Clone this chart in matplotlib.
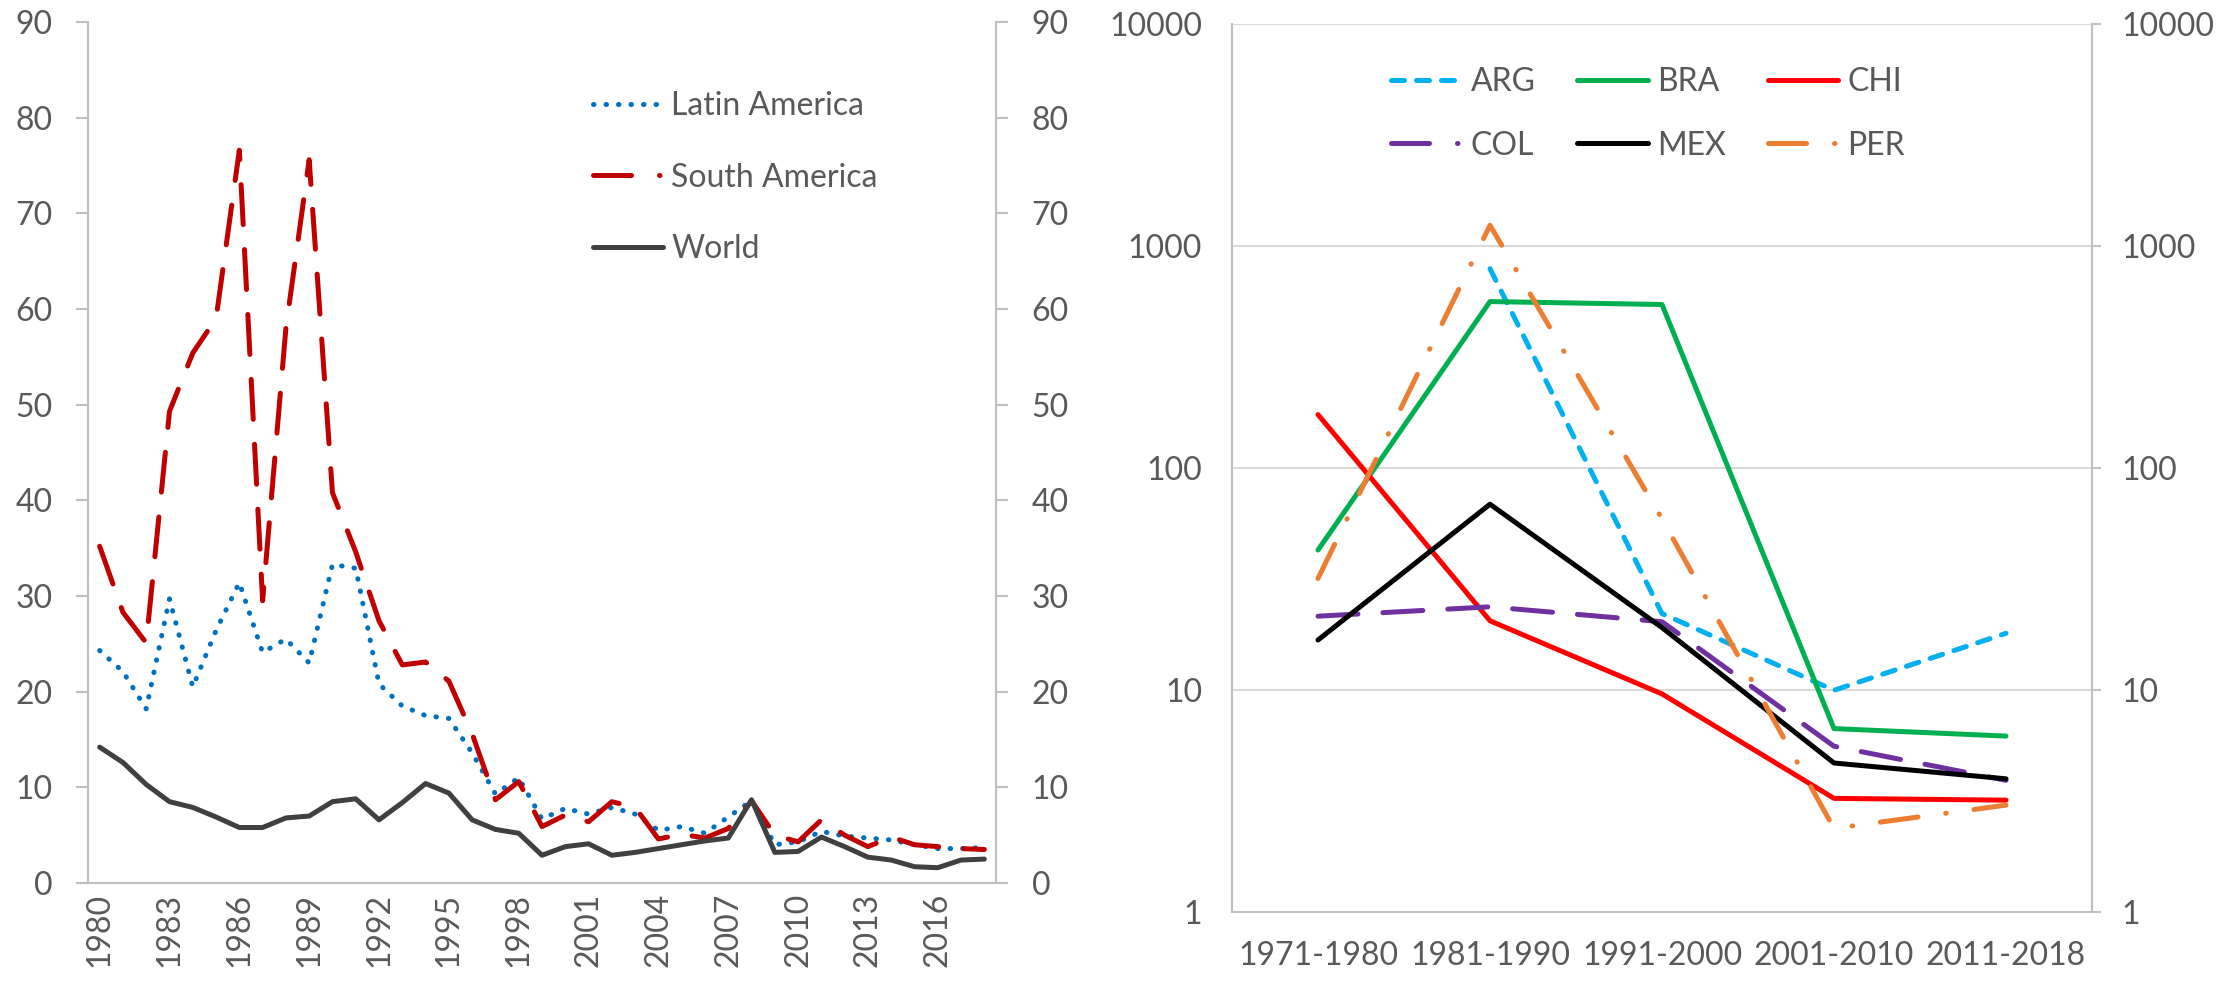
import numpy as np
import matplotlib
matplotlib.use("Agg")
import matplotlib.pyplot as plt
from matplotlib.lines import Line2D

plt.rcParams['font.family'] = ['Lato', 'DejaVu Sans']

# annual inflation, %
years = list(range(1980, 2019))
latin = [24.3, 22.1, 18.2, 29.7, 20.5, 26.4, 31.4, 24.1, 25.5, 23.0,
         33.3, 32.9, 20.8, 18.5, 17.5, 17.2, 13.6, 9.3, 11.0, 6.7,
         7.8, 7.2, 7.9, 7.2, 5.5, 5.9, 5.2, 6.9, 8.6, 4.0,
         4.3, 5.4, 4.9, 4.7, 4.5, 4.0, 3.6, 3.6, 3.7]
south = [35.2, 28.3, 25.1, 49.3, 55.4, 59.0, 76.6, 29.5, 58.0, 75.6,
         40.8, 34.6, 27.4, 22.8, 23.1, 21.1, 15.6, 8.7, 10.6, 5.9,
         7.1, 6.4, 8.5, 7.9, 4.6, 5.1, 4.7, 5.7, 8.6, 5.0,
         4.3, 6.6, 5.0, 3.8, 4.8, 4.0, 3.8, 3.6, 3.5]
world = [14.2, 12.6, 10.3, 8.5, 7.9, 6.9, 5.8, 5.8, 6.8, 7.0,
         8.5, 8.8, 6.6, 8.4, 10.4, 9.4, 6.6, 5.6, 5.2, 2.9,
         3.8, 4.1, 2.9, 3.2, 3.6, 4.0, 4.4, 4.7, 8.7, 3.2,
         3.3, 4.8, 3.8, 2.7, 2.4, 1.7, 1.6, 2.4, 2.5]

# decade averages by country, %
periods = ['1971-1980', '1981-1990', '1991-2000', '2001-2010', '2011-2018']
arg = [np.nan, 790, 22.1, 9.97, 18.0]
bra = [42.7, 562, 545, 6.7, 6.2]
chi = [174, 20.5, 9.6, 3.25, 3.19]
col = [21.5, 23.7, 20.3, 5.58, 3.92]
mex = [16.8, 68.7, 19.1, 4.69, 3.98]
per = [31.8, 1240, 59, 2.38, 3.03]

TXT = '#595959'
AXC = '#BFBFBF'
FS = 23
LW = 3.6

long_dash = (0, (8, 5))
dash_dot = (0, (7.6, 5.6, 0.1, 5.6))
dots = (0, (0.1, 2.4))

fig = plt.figure(figsize=(22.29, 9.84), dpi=100)

# ---- left panel: annual series
ax = fig.add_axes([88/2229, 101/984, 908/2229, 861/984])
ax.plot(years, latin, color='#0070C0', lw=LW, linestyle=dots,
        dash_capstyle='round', solid_joinstyle='round')
ax.plot(years, south, color='#C00000', lw=LW, linestyle=long_dash,
        dash_capstyle='round', dash_joinstyle='round')
ax.plot(years, world, color='#404040', lw=LW,
        solid_capstyle='round', solid_joinstyle='round')
ax.set_xlim(1979.5, 2018.5)
ax.set_ylim(0, 90)
ax.set_yticks(range(0, 91, 10))
ax.set_xticks(years[::3])
ax.set_xticklabels([str(y) for y in years[::3]], rotation=90, va='top')
ax.tick_params(axis='y', left=True, right=True, labelleft=True, labelright=True,
               length=8.6, width=1.5, color=AXC, labelsize=FS, labelcolor=TXT, pad=17)
ax.tick_params(axis='x', length=0, labelsize=FS, labelcolor=TXT, pad=7)
ax.spines['top'].set_visible(False)
for s in ['left', 'right', 'bottom']:
    ax.spines[s].set_color(AXC)
    ax.spines[s].set_linewidth(1.5)

h_left = [
    Line2D([], [], color='#0070C0', lw=LW, linestyle=dots, dash_capstyle='round'),
    Line2D([], [], color='#C00000', lw=LW, linestyle=dash_dot, dash_capstyle='round'),
    Line2D([], [], color='#404040', lw=LW, solid_capstyle='round'),
]
leg = ax.legend(h_left, ['Latin America', 'South America', 'World'],
                loc='upper left', bbox_to_anchor=(593/2229, 1 - 91/984),
                bbox_transform=fig.transFigure, frameon=False, fontsize=FS,
                borderpad=0, borderaxespad=0, handlelength=2.2,
                handletextpad=0.25, labelspacing=1.3)
for t in leg.get_texts():
    t.set_color(TXT)

# ---- right panel: decade averages, log scale
bx = fig.add_axes([1232/2229, 72/984, 860/2229, 888/984])
xs = np.arange(len(periods))
bx.plot(xs, arg, color='#00B0F0', lw=LW, linestyle=(0, (2.6, 2.4)), dash_capstyle='round')
bx.plot(xs, bra, color='#00B050', lw=LW, solid_joinstyle='round', solid_capstyle='round')
bx.plot(xs, chi, color='#FF0000', lw=LW, solid_joinstyle='round', solid_capstyle='round')
bx.plot(xs, col, color='#7030A0', lw=LW, linestyle=long_dash, dash_capstyle='round')
bx.plot(xs, mex, color='#000000', lw=LW, solid_joinstyle='round', solid_capstyle='round')
bx.plot(xs, per, color='#ED7D31', lw=LW, linestyle=dash_dot, dash_capstyle='round')
bx.set_yscale('log')
bx.set_ylim(1, 10000)
bx.set_xlim(-0.5, len(periods) - 0.5)
bx.set_yticks([1, 10, 100, 1000, 10000])
bx.set_yticklabels(['1', '10', '100', '1000', '10000'])
bx.yaxis.set_minor_locator(matplotlib.ticker.NullLocator())
bx.set_xticks(xs)
bx.set_xticklabels(periods)
bx.yaxis.grid(True, color='#D9D9D9', lw=1.5)
bx.set_axisbelow(True)
bx.tick_params(axis='y', left=False, right=True, labelleft=True, labelright=True,
               length=6.5, width=1.5, color=AXC, labelsize=FS, labelcolor=TXT, pad=15)
bx.tick_params(axis='x', length=0, labelsize=FS, labelcolor=TXT, pad=21)
bx.spines['top'].set_visible(False)
for s in ['left', 'right', 'bottom']:
    bx.spines[s].set_color(AXC)
    bx.spines[s].set_linewidth(1.5)

h_right = [
    Line2D([], [], color='#00B0F0', lw=LW, linestyle=(0, (2.6, 2.4)), dash_capstyle='round'),
    Line2D([], [], color='#7030A0', lw=LW, linestyle=dash_dot, dash_capstyle='round'),
    Line2D([], [], color='#00B050', lw=LW, solid_capstyle='round'),
    Line2D([], [], color='#000000', lw=LW, solid_capstyle='round'),
    Line2D([], [], color='#FF0000', lw=LW, solid_capstyle='round'),
    Line2D([], [], color='#ED7D31', lw=LW, linestyle=dash_dot, dash_capstyle='round'),
]
leg2 = bx.legend(h_right, ['ARG', 'COL', 'BRA', 'MEX', 'CHI', 'PER'], ncol=3,
                 loc='upper left', bbox_to_anchor=(1391/2229, 1 - 67/984),
                 bbox_transform=fig.transFigure, frameon=False, fontsize=FS,
                 borderpad=0, borderaxespad=0, handlelength=2.2,
                 handletextpad=0.3, labelspacing=1.05, columnspacing=1.3)
for t in leg2.get_texts():
    t.set_color(TXT)

fig.savefig('out.png', dpi=100)
